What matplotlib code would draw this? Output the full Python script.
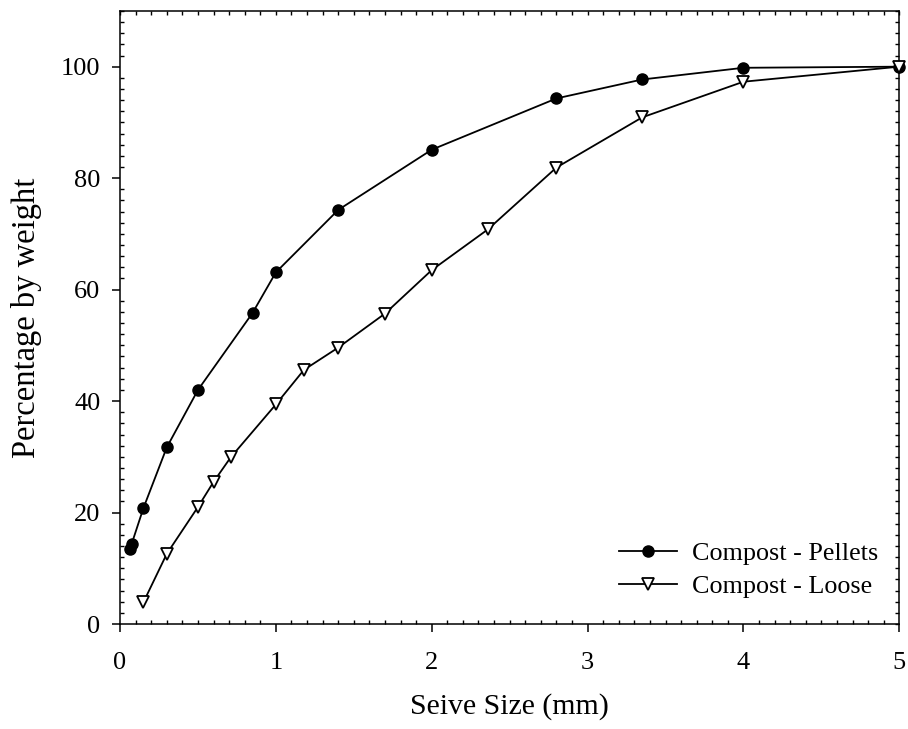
import matplotlib
matplotlib.use("Agg")
import matplotlib.pyplot as plt
from matplotlib.ticker import MultipleLocator

# Sieve sizes (mm) and cumulative percentage passing by weight
pellet_size = [0.063, 0.075, 0.15, 0.3, 0.5, 0.85, 1.0, 1.4, 2.0, 2.8, 3.35, 4.0, 5.0]
pellet_pct = [13.5, 14.4, 20.8, 31.7, 42.0, 55.8, 63.1, 74.3, 85.1, 94.3, 97.7, 99.8, 100.0]

loose_size = [0.15, 0.3, 0.5, 0.6, 0.71, 1.0, 1.18, 1.4, 1.7, 2.0, 2.36, 2.8, 3.35, 4.0, 5.0]
loose_pct = [3.9, 12.6, 21.0, 25.5, 29.9, 39.4, 45.6, 49.6, 55.7, 63.5, 70.8, 81.9, 90.9, 97.3, 100.0]

x_ticks = [0, 1, 2, 3, 4, 5]
y_ticks = [0, 20, 40, 60, 80, 100]

plt.rcParams['font.family'] = ['Liberation Serif', 'DejaVu Serif']
plt.rcParams['font.size'] = 19

fig = plt.figure(figsize=(9.08, 7.29), dpi=100)
ax = fig.add_axes([0.1322, 0.144, 0.8582, 0.841])

ax.plot(pellet_size, pellet_pct, color='black', lw=1.3, marker='o',
        markersize=8.0, markerfacecolor='black', markeredgecolor='black',
        label='Compost - Pellets', clip_on=False, zorder=3)
ax.plot(loose_size, loose_pct, color='black', lw=1.3, marker='v',
        markersize=9.0, markerfacecolor='white', markeredgecolor='black',
        markeredgewidth=1.3, label='Compost - Loose', clip_on=False, zorder=3)

ax.set_xlim(0, 5)
ax.set_ylim(0, 110)
ax.set_xticks(x_ticks)
ax.set_yticks(y_ticks)
ax.xaxis.set_minor_locator(MultipleLocator(0.1))
ax.yaxis.set_minor_locator(MultipleLocator(2))

for s in ax.spines.values():
    s.set_linewidth(1.1)

ax.tick_params(which='major', direction='out', length=6, width=1.1,
               labelsize=19, top=False, right=False)
ax.tick_params(axis='x', which='major', pad=14)
ax.tick_params(axis='y', which='major', pad=8)
ax.tick_params(which='minor', direction='in', length=3.2, width=1.0,
               top=False, right=False)

# Inward ticks along the top and right frame edges
top = ax.secondary_xaxis('top')
top.set_xticks([i / 10 for i in range(51)])
top.tick_params(direction='in', length=3.2, width=1.0, labeltop=False)
top.spines['top'].set_visible(False)
right = ax.secondary_yaxis('right')
right.set_yticks(list(range(0, 111, 2)))
right.tick_params(direction='in', length=3.2, width=1.0, labelright=False)
right.spines['right'].set_visible(False)

ax.set_xlabel('Seive Size (mm)', fontsize=21.5, labelpad=14)
ax.set_ylabel('Percentage by weight', fontsize=23.5, labelpad=14)

ax.legend(loc='lower right', frameon=False, fontsize=18.8, handlelength=2.2,
          handletextpad=0.6, labelspacing=0.35, borderaxespad=0.0,
          bbox_to_anchor=(0.987, 0.026))

fig.savefig('out.png', dpi=100)
